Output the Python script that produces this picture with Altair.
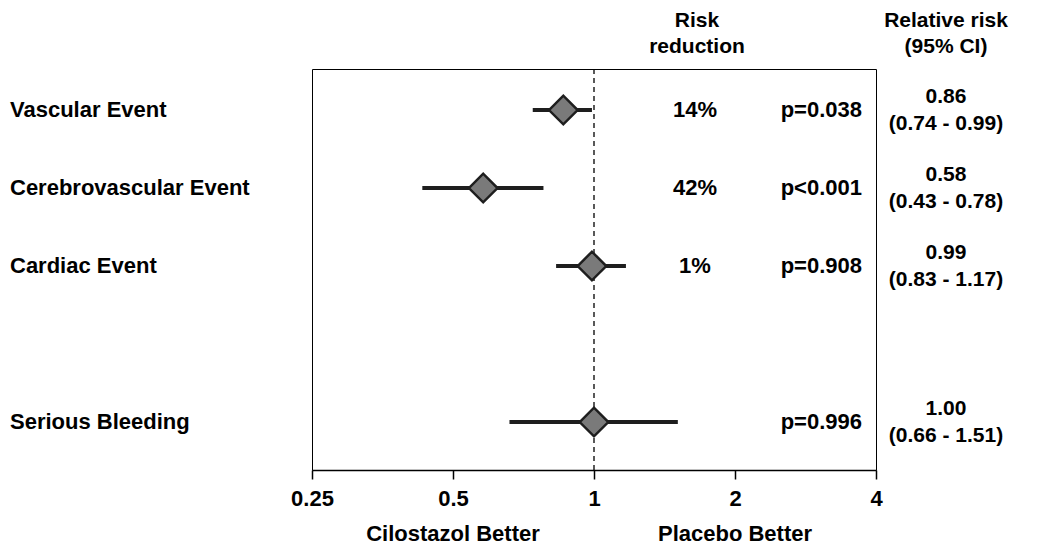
import altair as alt
import pandas as pd

# ---- data ----
outcomes = ["Vascular Event", "Cerebrovascular Event", "Cardiac Event", "Serious Bleeding"]
rel_risk = [0.86, 0.58, 0.99, 1.00]
ci_low = [0.74, 0.43, 0.83, 0.66]
ci_high = [0.99, 0.78, 1.17, 1.51]
risk_reduction = ["14%", "42%", "1%", ""]
p_values = ["p=0.038", "p<0.001", "p=0.908", "p=0.996"]
tick_values = [0.25, 0.5, 1, 2, 4]
rr_text = ["0.86", "0.58", "0.99", "1.00"]
ci_text = ["(0.74  -  0.99)", "(0.43  -  0.78)", "(0.83  -  1.17)", "(0.66  -  1.51)"]
blank_rows_before = [0, 0, 0, 1]
header_risk = ["Risk", "reduction"]
header_rr = ["Relative risk", "(95% CI)"]
side_labels = ["Cilostazol Better", "Placebo Better"]
side_label_at = [0.5, 2]

FONT = "Liberation Sans"

rows = []
slot = 0
for i, name in enumerate(outcomes):
    slot += blank_rows_before[i]
    rows.append(dict(outcome=name, rr=rel_risk[i], lo=ci_low[i], hi=ci_high[i],
                     risk=risk_reduction[i], p=p_values[i], rrt=rr_text[i],
                     cit=ci_text[i], row=slot))
    slot += 1
df = pd.DataFrame(rows)

W, H = 564, 401
xscale = alt.Scale(type="log", domain=[0.25, 4], nice=False)
yscale = alt.Scale(domain=[-0.526, 4.615], reverse=True, nice=False, zero=False)

base = alt.Chart(df)
X = alt.X("rr:Q", scale=xscale,
          axis=alt.Axis(values=tick_values, format="~g", title=None, grid=False,
                        labelFont=FONT, labelFontWeight="bold", labelFontSize=22,
                        labelColor="black", domainColor="black", domainWidth=1.5,
                        tickColor="black", tickSize=9, tickWidth=1.5, labelPadding=9,
                        labelFlush=False))
Y = alt.Y("row:Q", scale=yscale, axis=None)

ref = alt.Chart(pd.DataFrame({"v": [1]})).mark_rule(
    color="black", strokeDash=[5, 4], strokeWidth=1.3
).encode(x=alt.X("v:Q", scale=xscale))

ci = base.mark_rule(color="#1e1e1e", strokeWidth=4).encode(
    x=alt.X("lo:Q", scale=xscale), x2="hi:Q", y=Y)

pts = base.mark_point(shape="diamond", size=820, fill="#7a7a7a", stroke="#1e1e1e",
                      strokeWidth=2.5, opacity=1, fillOpacity=1).encode(x=X, y=Y)

def txt(field, xpix, align="center", dy=0, size=22):
    return base.mark_text(font=FONT, fontWeight="bold", fontSize=size, color="black",
                          align=align, baseline="middle", dy=dy).encode(
        x=alt.value(xpix), y=Y, text=f"{field}:N")

labels = txt("outcome", -302, align="left")
risk = txt("risk", 383)
pv = txt("p", 550, align="right")
rrl = txt("rrt", 634, dy=-13, size=21)
cil = txt("cit", 634, dy=14, size=21)

hdr_df = pd.DataFrame({
    "t": header_risk + header_rr,
    "x": [385, 385, 634, 634],
    "y": [-48, -22, -48, -22],
})
hdr = alt.Chart(hdr_df).mark_text(font=FONT, fontWeight="bold", fontSize=21,
                                  color="black", align="center", baseline="middle").encode(
    x=alt.X("x:Q", scale=None), y=alt.Y("y:Q", scale=None), text="t:N")

side = alt.Chart(pd.DataFrame({"t": side_labels, "v": side_label_at})).mark_text(
    font=FONT, fontWeight="bold", fontSize=22, color="black", align="center",
    baseline="middle").encode(
    x=alt.X("v:Q", scale=xscale), y=alt.value(465), text="t:N")

chart = alt.layer(ref, ci, pts, labels, risk, pv, rrl, cil, hdr, side).properties(
    width=W, height=H,
    autosize=alt.AutoSizeParams(type="none"),
    padding={"left": 312, "top": 69, "right": 162, "bottom": 77},
    background="white",
).configure_view(stroke="black", strokeWidth=1)

chart.save("out.html", embed_options={"renderer": "svg", "actions": False})
